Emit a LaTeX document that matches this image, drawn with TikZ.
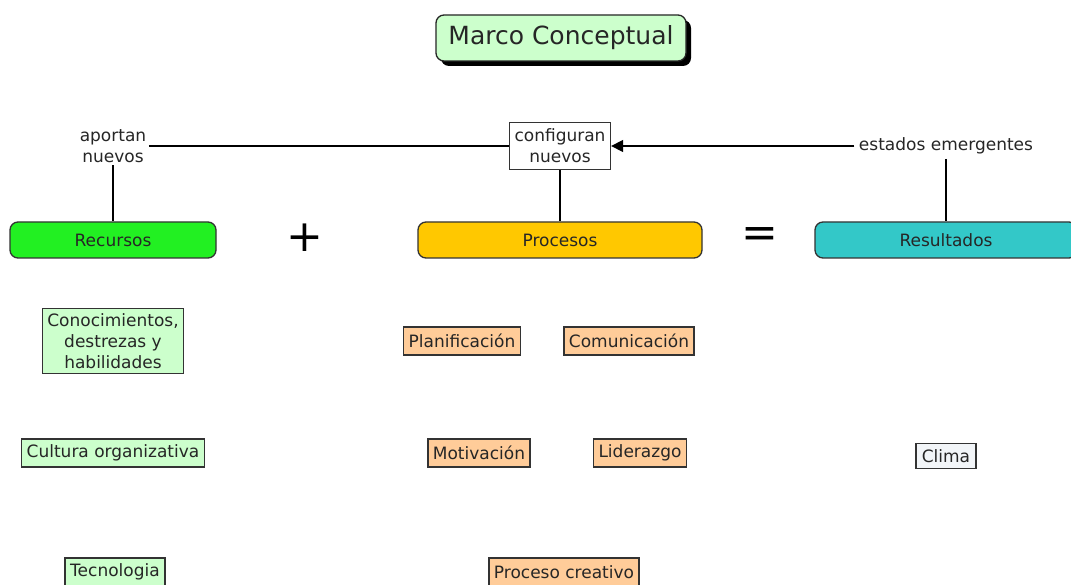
\documentclass[tikz,border=0pt]{standalone}
\usepackage{fontspec}
\setmainfont{DejaVu Sans}
\usepackage{xcolor}
\usetikzlibrary{arrows.meta,shadows}

\definecolor{verde}{HTML}{22F022}
\definecolor{oro}{HTML}{FFC800}
\definecolor{turquesa}{HTML}{33C8C8}
\definecolor{verdeclaro}{HTML}{CCFFCC}
\definecolor{salmon}{HTML}{FFCC99}
\definecolor{gris}{HTML}{F2F5F8}

\begin{document}
\begin{tikzpicture}[x=1pt,y=-1pt,line width=1.3pt,
  font=\fontsize{17}{21}\selectfont,text=black!85,
  titulo/.style={draw=black!85,fill=verdeclaro,rounded corners=8pt,
    minimum width=250pt,minimum height=46pt,font=\fontsize{25}{30}\selectfont,
    drop shadow={opacity=1,fill=black,shadow xshift=5pt,shadow yshift=-5pt}},
  rama/.style={draw=black!80,rounded corners=8pt,minimum height=36pt,inner sep=0pt},
  concepto/.style={draw=black!80,line width=1.5pt,align=center,inner xsep=5pt,inner ysep=4pt,minimum height=28pt},
  enlace/.style={align=center,inner sep=2pt},
  signo/.style={font=\fontsize{44}{44}\selectfont,text=black}]

\fill[white] (0,0) rectangle (1071,585);
\useasboundingbox (0,0) rectangle (1071,585);

\node[titulo] (MC) at (561,38) {Marco Conceptual};

\node[enlace] (AN) at (113,146) {aportan\\nuevos};
\node[concepto,fill=white,line width=1.3pt,minimum width=101pt,minimum height=47pt,inner ysep=2pt] (CN) at (560,146) {configuran\\nuevos};
\node[enlace,inner sep=4pt] (EE) at (946,146) {estados emergentes};

\node[rama,fill=verde,minimum width=206pt] (R) at (113,240) {Recursos};
\node[signo] (mas) at (305,238) {+};
\node[rama,fill=oro,minimum width=284pt] (P) at (560,240) {Procesos};
\node[signo] (igual) at (760,238) {=};
\node[rama,fill=turquesa,minimum width=262pt] (Re) at (946,240) {Resultados};

% recursos
\node[concepto,fill=verdeclaro,inner ysep=5pt] (C1) at (113,341) {Conocimientos,\\destrezas y\\habilidades};
\node[concepto,fill=verdeclaro] (C2) at (113,453) {Cultura organizativa};
\node[concepto,fill=verdeclaro] (C3) at (115,572) {Tecnologia};

% procesos
\node[concepto,fill=salmon] (P1) at (462,341) {Planificación};
\node[concepto,fill=salmon] (P2) at (629,341) {Comunicación};
\node[concepto,fill=salmon] (P3) at (479,453) {Motivación};
\node[concepto,fill=salmon] (P4) at (640,453) {Liderazgo};
\node[concepto,fill=salmon] (P5) at (564,572) {Proceso creativo};

% resultados
\node[concepto,fill=gris,inner xsep=6pt,minimum height=25pt] (Cl) at (946,456) {Clima};

\draw (AN.east |- CN.west) -- (CN.west);
\draw[-{Triangle[length=12pt,width=12pt]}] (EE.west) -- (CN.east);
\draw (AN) -- (R);
\draw (CN) -- (P);
\draw (EE) -- (Re);

\end{tikzpicture}
\end{document}
